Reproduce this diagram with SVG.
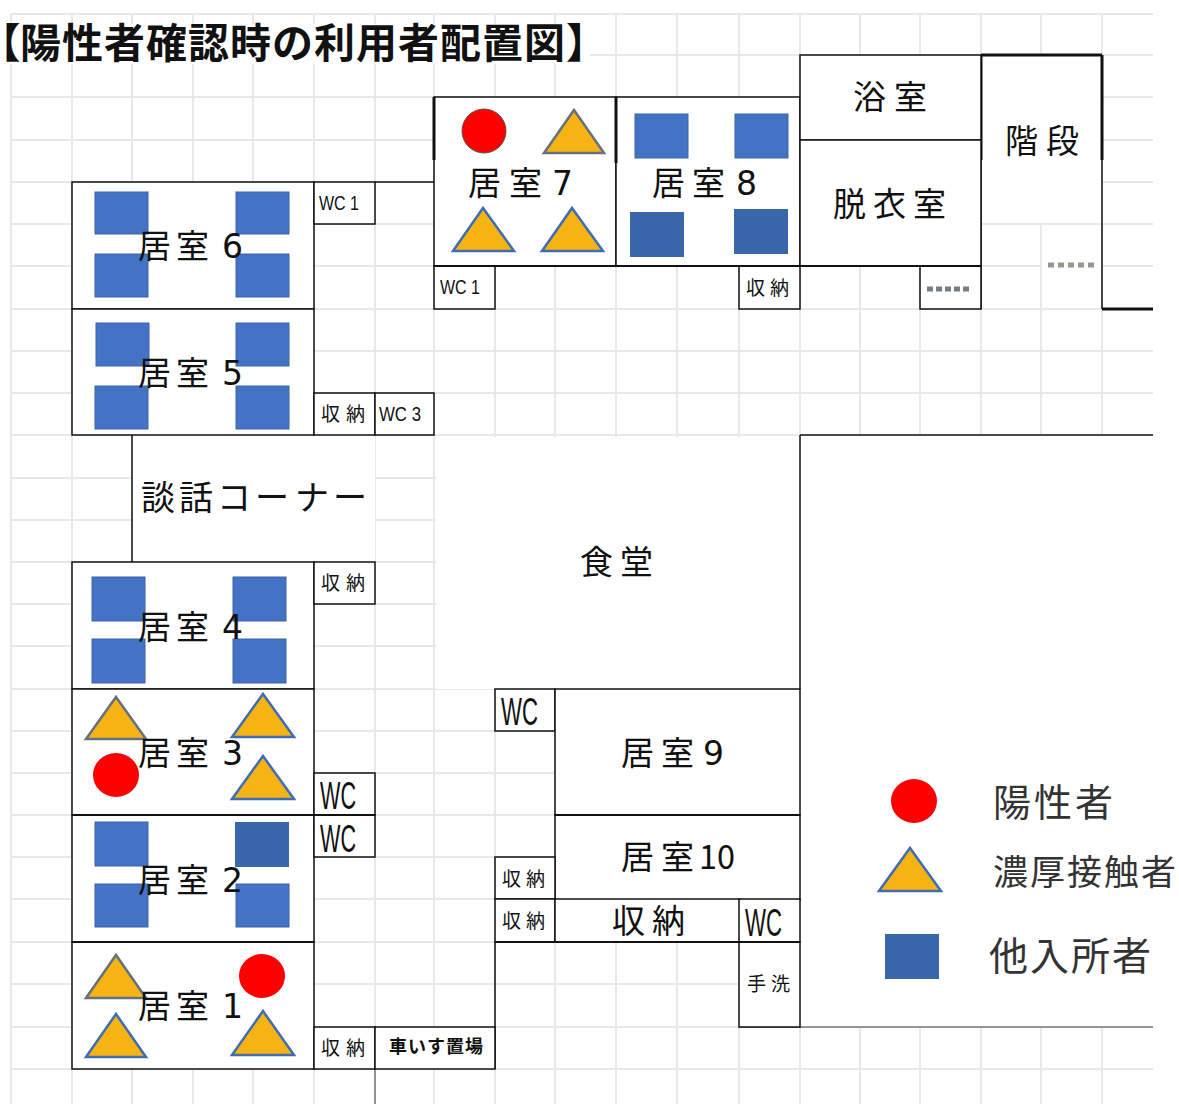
<svg xmlns="http://www.w3.org/2000/svg" width="1179" height="1104" viewBox="0 0 1179 1104">
<style>
text{font-family:"Noto Sans CJK JP","Noto Sans",sans-serif;fill:#111}
.grid{fill:none;stroke:#e8e8e8;stroke-width:2}
.room{fill:#fff;stroke:#111;stroke-width:1.5}
.white{fill:#fff}
.wall{fill:none;stroke:#111;stroke-width:1.5}
.thick{fill:none;stroke:#111;stroke-width:3}
.mid{fill:none;stroke:#111;stroke-width:2.2}
.gray{fill:none;stroke:#777;stroke-width:1.5}
.sq{fill:#4472c4;stroke:#3a62a8;stroke-width:1}
.sqd{fill:#3a66ab}
.tri{fill:#f5b414;stroke:#3f6cb3;stroke-width:2.5}
.trg{fill:#f5b414;stroke:#66707f;stroke-width:2.5}
.pos{fill:#f00}
.l{font-size:33px}
.s{font-size:19px}
.d{font-family:"DejaVu Sans",sans-serif}
text.wc{font-family:"Liberation Sans",sans-serif}
.legend{fill:#333}
.half{font-feature-settings:"halt"}
.smudge{fill:none;stroke:#4a4f5c;stroke-width:5;stroke-dasharray:6 3;opacity:.75}
.smudge2{fill:none;stroke:#6f6a5e;stroke-width:5;stroke-dasharray:6 4;opacity:.7}
</style>
<g id="grid">
<path class="grid" d="M11 14V1104M72 14V1104M132 14V1104M193 14V1104M253 14V1104M314 14V1104M375 14V1104M434 14V1104M495 14V1104M555 14V1104M616 14V1104M677 14V1104M739 14V1104M800 14V1104M860 14V1104M920 14V1104M981 14V1104M1041 14V1104M1102 14V1104"/>
<path class="grid" d="M11 14H1153M11 55H1153M11 97H1153M11 140H1153M11 182H1153M11 224H1153M11 266H1153M11 309H1153M11 351H1153M11 393H1153M11 435H1153M11 478H1153M11 520H1153M11 562H1153M11 604H1153M11 646H1153M11 689H1153M11 731H1153M11 773H1153M11 815H1153M11 857H1153M11 899H1153M11 942H1153M11 984H1153M11 1027H1153M11 1069H1153"/>
<rect class="white" x="0" y="24" width="590" height="40"/>
<rect class="white" x="436" y="437" width="364" height="252"/>
<rect class="white" x="800" y="435" width="379" height="592"/>
<rect class="white" x="1153" y="0" width="26" height="1104"/>
<rect class="white" x="132" y="435" width="243" height="127"/>
<rect class="white" x="981" y="55" width="121" height="168"/>
<rect class="white" x="1042" y="250" width="59" height="25"/>
</g>
<g id="title"><text y="58" font-size="41" font-weight="700" letter-spacing="1"><tspan class="half" x="0">【</tspan><tspan x="20">陽性者確認時の利用者配置図</tspan><tspan class="half" x="566">】</tspan></text></g>
<g id="connectors">
<path class="wall" d="M375 182H434M132 435V562M495 942V1069M800 435V689M800 435H1153M1102 160V309M981 160V309"/>
<path class="thick" d="M1102 309H1153M981 55H1102M1102 55V160M981 55V160"/>
<path class="gray" d="M375 1069V1104M739 1027H1153"/>
</g>
<g id="room6"><rect class="room" x="72" y="182" width="242" height="127"/><rect class="sq" x="95" y="192" width="53" height="42"/><rect class="sq" x="236" y="192" width="53" height="42"/><rect class="sq" x="95" y="254" width="53" height="43"/><rect class="sq" x="236" y="254" width="53" height="43"/><text class="l" x="138 176" y="258">居室</text><text class="l d" x="222" y="258">6</text></g>
<g id="room5"><rect class="room" x="72" y="309" width="242" height="126"/><rect class="sq" x="96" y="323" width="53" height="43"/><rect class="sq" x="236" y="323" width="53" height="43"/><rect class="sq" x="95" y="386" width="53" height="43"/><rect class="sq" x="236" y="386" width="53" height="43"/><text class="l" x="138 176" y="385">居室</text><text class="l d" x="222" y="385">5</text></g>
<g id="room4"><rect class="room" x="72" y="562" width="242" height="127"/><rect class="sq" x="92" y="577" width="53" height="44"/><rect class="sq" x="233" y="577" width="53" height="44"/><rect class="sq" x="92" y="639" width="53" height="44"/><rect class="sq" x="233" y="639" width="53" height="44"/><text class="l" x="138 176" y="639">居室</text><text class="l d" x="222" y="639">4</text></g>
<g id="room3"><rect class="room" x="72" y="689" width="242" height="126"/><path class="trg" d="M116 697L146 739H86Z"/><path class="tri" d="M263 694L294 737H232Z"/><path class="tri" d="M263 756L294 799H232Z"/><ellipse class="pos" cx="116" cy="775" rx="23" ry="22"/><text class="l" x="138 176" y="765">居室</text><text class="l d" x="222" y="765">3</text></g>
<g id="room2"><rect class="room" x="72" y="815" width="242" height="127"/><rect class="sq" x="95" y="822" width="53" height="44"/><rect class="sqd" x="235" y="822" width="54" height="45"/><rect class="sq" x="95" y="884" width="53" height="43"/><rect class="sq" x="236" y="884" width="53" height="43"/><text class="l" x="138 176" y="892">居室</text><text class="l d" x="222" y="892">2</text></g>
<g id="room1"><rect class="room" x="72" y="942" width="242" height="127"/><path class="trg" d="M116 955L146 998H86Z"/><path class="tri" d="M116 1014L146 1057H86Z"/><path class="tri" d="M263 1011L294 1055H232Z"/><ellipse class="pos" cx="262" cy="976" rx="23" ry="22"/><text class="l" x="138 176" y="1018">居室</text><text class="l d" x="222" y="1018">1</text></g>
<g id="wc-a"><rect class="room" x="314" y="182" width="61" height="42"/><text class="wc" font-size="21" x="319" y="210" textLength="40" lengthAdjust="spacingAndGlyphs">WC 1</text></g>
<g id="storage-a"><rect class="room" x="314" y="393" width="61" height="42"/><text class="s" x="321 346" y="421">収納</text></g>
<g id="wc3"><rect class="room" x="375" y="393" width="59" height="42"/><text class="wc" font-size="21" x="379" y="421" textLength="42" lengthAdjust="spacingAndGlyphs">WC 3</text></g>
<g id="lounge"><text font-size="34" x="141 179 217 255 295 333" y="510">談話コーナー</text></g>
<g id="storage-b"><rect class="room" x="314" y="562" width="61" height="42"/><text class="s" x="321 346" y="590">収納</text></g>
<g id="wc-b"><rect class="room" x="314" y="773" width="61" height="42"/><text class="wc" font-size="38" x="320" y="809" textLength="36" lengthAdjust="spacingAndGlyphs">WC</text></g>
<g id="wc-c"><rect class="room" x="314" y="815" width="61" height="42"/><text class="wc" font-size="38" x="320" y="852" textLength="36" lengthAdjust="spacingAndGlyphs">WC</text></g>
<g id="storage-c"><rect class="room" x="314" y="1027" width="61" height="42"/><text class="s" x="321 346" y="1055">収納</text></g>
<g id="wheelchair"><rect class="room" x="375" y="1027" width="120" height="42"/><text font-size="18" font-weight="700" x="389 408 427 446 465" y="1053">車いす置場</text></g>
<g id="room7"><rect class="room" x="434" y="97" width="182" height="169"/><path class="thick" d="M434 97V160"/><ellipse cx="484" cy="131" rx="22" ry="22" fill="#f00" stroke="#555" stroke-width="1"/><path class="trg" d="M574 110L604 153H544Z"/><path class="tri" d="M483 208L514 251H453Z"/><path class="tri" d="M572 208L603 251H542Z"/><text class="l" x="468 509" y="195">居室</text><text class="l d" x="552" y="195">7</text></g>
<g id="room8"><rect class="room" x="616" y="97" width="184" height="169"/><path class="thick" d="M616 97V163"/><rect class="sq" x="635" y="114" width="53" height="44"/><rect class="sq" x="735" y="114" width="53" height="44"/><rect class="sqd" x="630" y="212" width="54" height="45"/><rect class="sqd" x="734" y="209" width="54" height="45"/><text class="l" x="652 692" y="195">居室</text><text class="l d" x="736" y="195">8</text></g>
<g id="wc-d"><rect class="room" x="434" y="266" width="61" height="43"/><text class="wc" font-size="21" x="440" y="294" textLength="40" lengthAdjust="spacingAndGlyphs">WC 1</text></g>
<g id="storage-d"><rect class="room" x="739" y="266" width="61" height="43"/><text class="s" x="746 770" y="295">収納</text></g>
<g id="small-room"><rect class="room" x="920" y="266" width="61" height="43"/><path class="smudge" d="M927 289H972"/></g>
<g id="bath"><rect class="room" x="800" y="55" width="181" height="85"/><text class="l" x="853 894" y="109">浴室</text></g>
<g id="dressing"><rect class="room" x="800" y="140" width="181" height="126"/><text class="l" x="833 873 913" y="216">脱衣室</text></g>
<g id="stairs"><text class="l" x="1005 1046" y="153">階段</text><path class="smudge2" d="M1048 265H1097"/></g>
<g id="dining"><text class="l" x="580 620" y="574">食堂</text></g>
<g id="wc-e"><rect class="room" x="495" y="689" width="60" height="42"/><text class="wc" font-size="38" x="501" y="725" textLength="37" lengthAdjust="spacingAndGlyphs">WC</text></g>
<g id="room9"><rect class="room" x="555" y="689" width="245" height="126"/><text class="l" x="621 661" y="765">居室</text><text class="l d" x="703" y="765">9</text></g>
<g id="room10"><rect class="room" x="555" y="815" width="245" height="85"/><text class="l" x="621 661" y="869">居室</text><text class="l" x="699" y="869" textLength="36" lengthAdjust="spacingAndGlyphs">10</text></g>
<g id="storage-e"><rect class="room" x="495" y="857" width="60" height="42"/><text class="s" x="502 526" y="886">収納</text></g>
<g id="storage-f"><rect class="room" x="495" y="899" width="60" height="43"/><text class="s" x="502 526" y="928">収納</text></g>
<g id="storage-g"><rect class="room" x="555" y="899" width="185" height="43"/><text class="l" x="612 652" y="933">収納</text></g>
<g id="wc-f"><rect class="room" x="739" y="899" width="61" height="43"/><text class="wc" font-size="38" x="745" y="936" textLength="37" lengthAdjust="spacingAndGlyphs">WC</text></g>
<g id="handwash"><rect class="room" x="739" y="942" width="61" height="85"/><text class="s" x="747 771" y="991">手洗</text></g>
<g id="thick-walls"><path class="mid" d="M495 942H800M555 815H800M72 815H375M72 942H314M434 266H981"/></g>
<g id="legend-positive"><ellipse class="pos" cx="914" cy="801" rx="23" ry="22"/><text class="legend" font-size="38" x="993 1034 1075" y="816">陽性者</text></g>
<g id="legend-contact"><path class="tri" d="M910 848L941 891H879Z"/><text class="legend" font-size="35" x="993 1030 1067 1104 1141" y="885">濃厚接触者</text></g>
<g id="legend-other"><rect class="sqd" x="885" y="934" width="54" height="45"/><text class="legend" font-size="39" x="989 1030 1071 1112" y="970">他入所者</text></g>
</svg>
